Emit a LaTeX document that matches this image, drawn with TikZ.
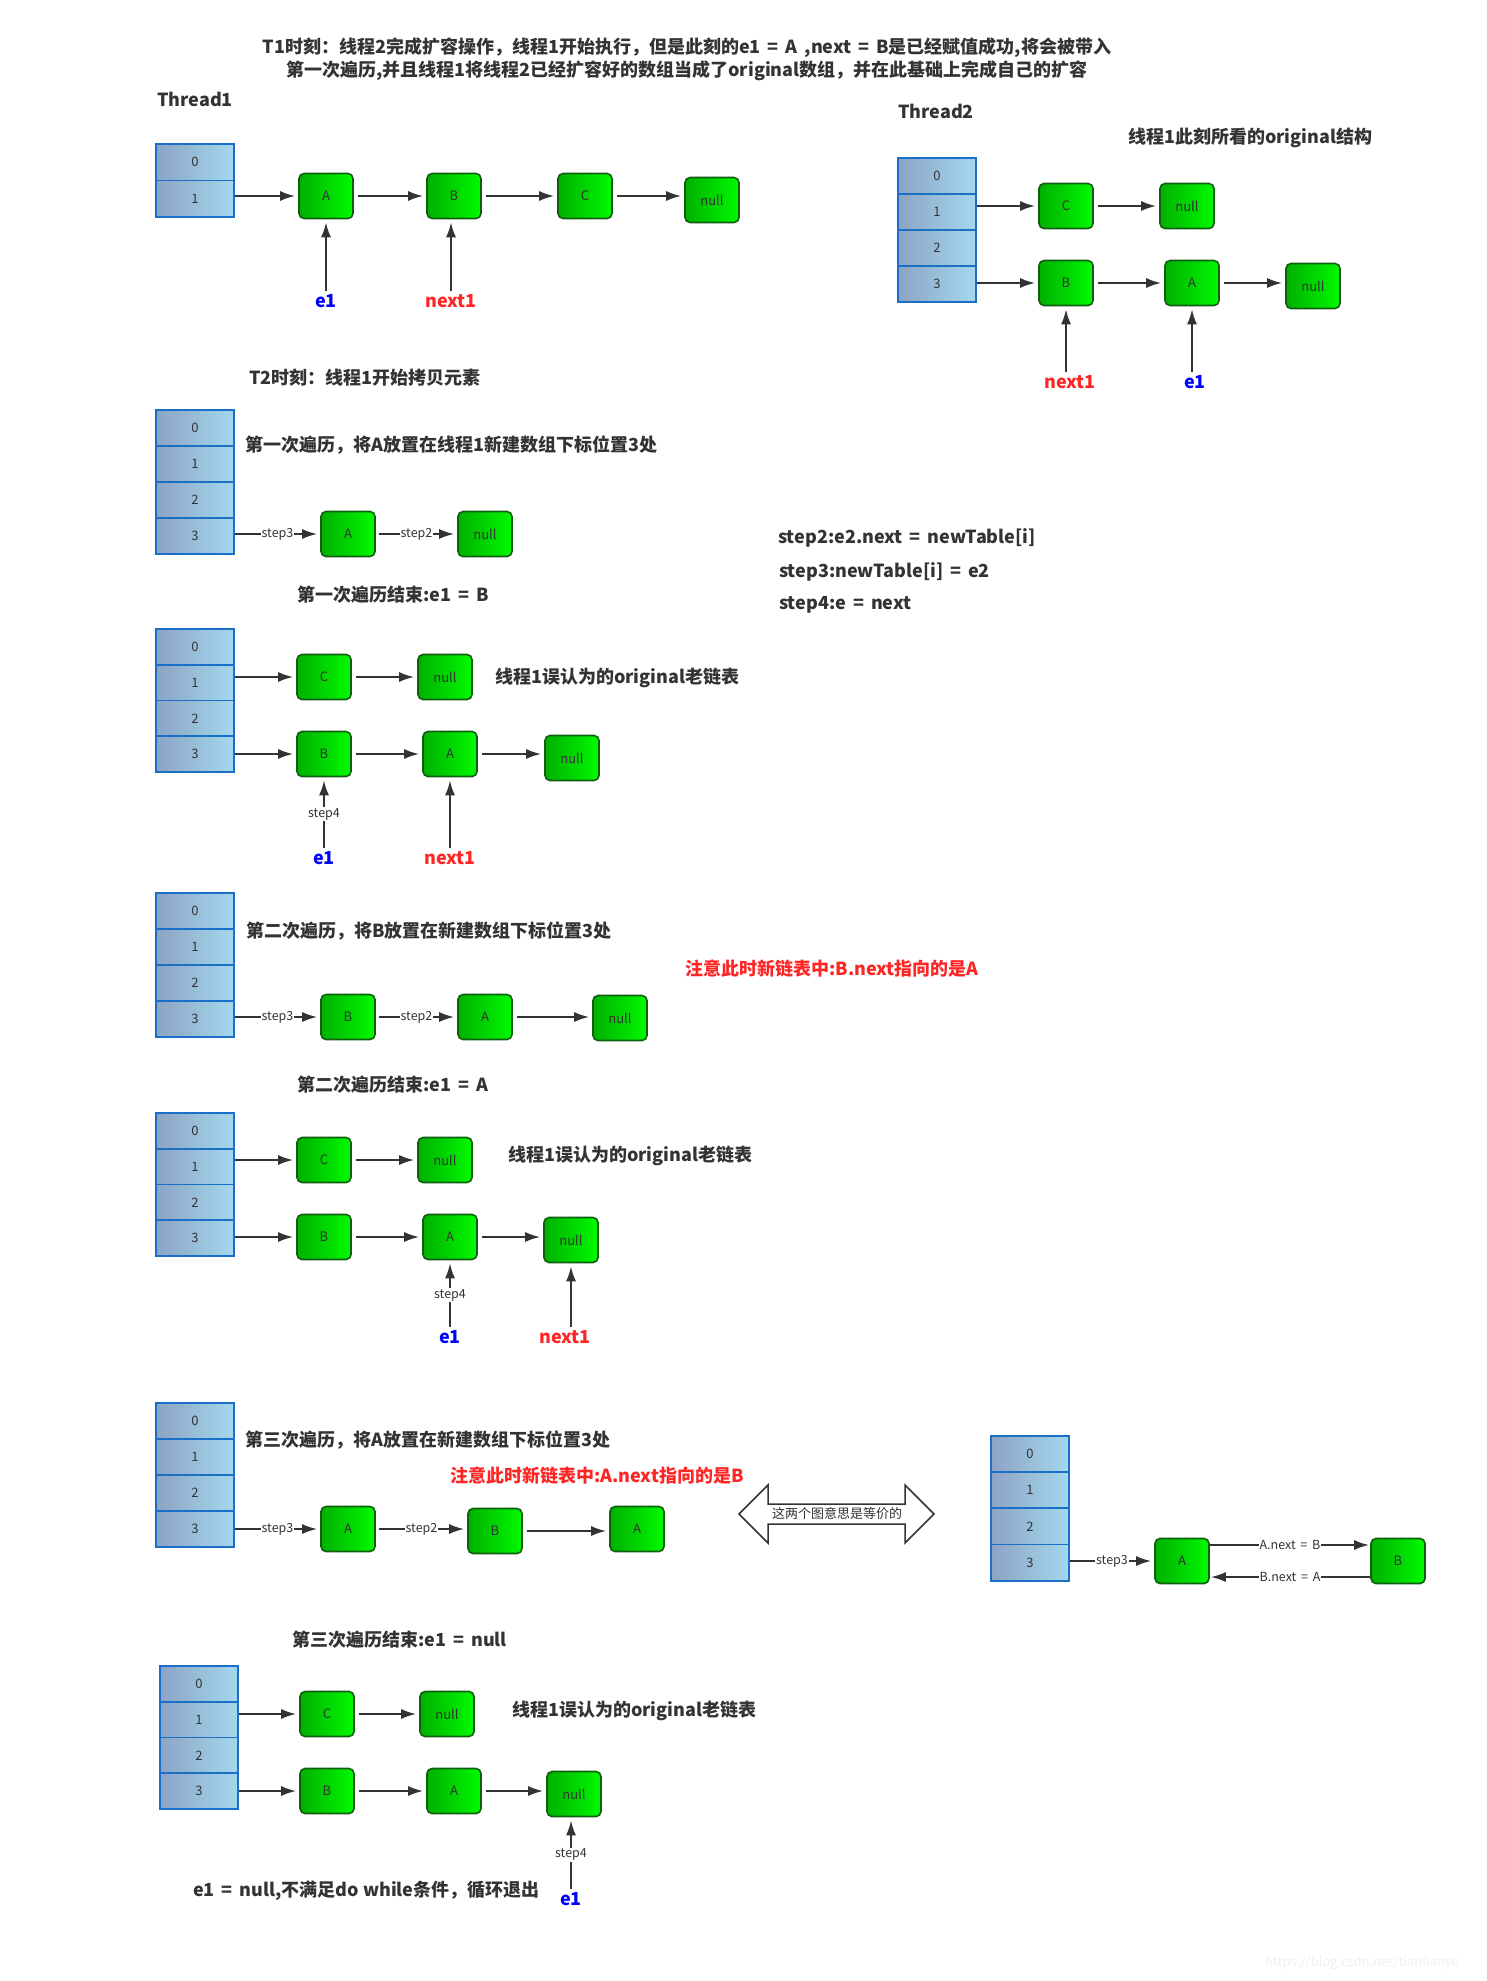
\documentclass[tikz,border=0pt]{standalone}
\usepackage{fontspec}
\setmainfont{Noto Sans CJK SC}[WordSpace=1.7]
\usetikzlibrary{arrows.meta}

\definecolor{ink}{HTML}{333333}
\definecolor{cellborder}{HTML}{1B6FC8}
\definecolor{cellleft}{HTML}{8DA3C4}
\definecolor{cellright}{HTML}{A3D8EE}
\definecolor{gborder}{HTML}{0F5F0F}
\definecolor{gleft}{HTML}{00B000}
\definecolor{gright}{HTML}{00FA00}
\definecolor{ptrblue}{HTML}{0000FF}
\definecolor{ptrred}{HTML}{FF2525}
\definecolor{wmark}{HTML}{F0F0F0}

\tikzset{
  cell/.style={draw=cellborder, line width=1.8pt, left color=cellleft, right color=cellright,
    minimum width=78pt, inner sep=0pt, anchor=north west,
    font=\fontsize{13}{15}\selectfont, text=ink},
  gnode/.style={draw=gborder, line width=1.6pt, rounded corners=5pt, left color=gleft, right color=gright,
    minimum width=54pt, minimum height=45pt, inner sep=0pt,
    font=\fontsize{13}{15}\selectfont, text=ink},
  arr/.style={draw=ink, line width=2pt, -{Latex[length=15pt,width=10pt]}, shorten >=3pt},
  steplabel/.style={fill=white, inner sep=1pt, font=\fontsize{12.5}{14}\selectfont, text=ink},
  heading/.style={font=\fontsize{18}{21}\selectfont\bfseries, text=ink, anchor=west, inner sep=0pt},
  ptr/.style={font=\fontsize{18}{21}\selectfont\bfseries, inner sep=0pt},
}

% a column of index cells: name, left x, top y, last index, cell height
\newcommand\cellcolumn[5]{%
  \foreach \i in {0,...,#4}{%
    \node[cell, minimum height=#5pt] (#1-\i) at (#2,{#3+\i*#5}) {\i};
  }%
}
% horizontal arrow between two list nodes
\newcommand\link[2]{\draw[arr, shorten <=4pt] (#1.east) -- (#1.east -| #2.west);}

\begin{document}
\begin{tikzpicture}[x=1pt,y=-1pt]
\useasboundingbox[fill=white] (0,0) rectangle (1487,1981);

% ---------- heading ----------
\node[heading, anchor=center] (title1) at (687,48) {T1时刻：线程2完成扩容操作，线程1开始执行，但是此刻的e1 = A ,next = B是已经赋值成功,将会被带入};
\node[heading, anchor=center] (title2) at (687,71) {第一次遍历,并且线程1将线程2已经扩容好的数组当成了original数组，并在此基础上完成自己的扩容};

% ---------- Thread1 ----------
\node[heading] (thread1) at (157,99) {Thread1};
\cellcolumn{t1}{155}{143}{1}{36.5}
\node[gnode] (t1A) at (326,196) {A};
\node[gnode] (t1B) at (454,196) {B};
\node[gnode] (t1C) at (585,196) {C};
\node[gnode] (t1N) at (712,200) {null};
\node[ptr, text=ptrblue] (t1e1) at (326,301) {e1};
\node[ptr, text=ptrred] (t1next) at (451,301) {next1};
\draw[arr] (t1-1.east |- t1A.west) -- (t1A.west);
\link{t1A}{t1B}
\link{t1B}{t1C}
\link{t1C}{t1N}
\draw[arr, shorten <=3pt] (t1e1.north) -- (t1A.south);
\draw[arr, shorten <=3pt] (t1next.north) -- (t1next.north |- t1B.south);

% ---------- Thread2 ----------
\node[heading] (thread2) at (898,111) {Thread2};
\node[heading] (t2cap) at (1128,138) {线程1此刻所看的original结构};
\cellcolumn{t2}{897}{157}{3}{36.1}
\node[gnode] (t2C) at (1066,206) {C};
\node[gnode] (t2N1) at (1187,206) {null};
\node[gnode] (t2B) at (1066,283) {B};
\node[gnode] (t2A) at (1192,283) {A};
\node[gnode] (t2N2) at (1313,286) {null};
\node[ptr, text=ptrred] (t2next) at (1070,382) {next1};
\node[ptr, text=ptrblue] (t2e1) at (1195,382) {e1};
\draw[arr] (t2-1.east |- t2C.west) -- (t2C.west);
\draw[arr] (t2-3.east |- t2B.west) -- (t2B.west);
\link{t2C}{t2N1}
\link{t2B}{t2A}
\link{t2A}{t2N2}
\draw[arr, shorten <=3pt] (t2next.north -| t2B.south) -- (t2B.south);
\draw[arr, shorten <=3pt] (t2e1.north -| t2A.south) -- (t2A.south);

% ---------- T2: first pass ----------
\node[heading] (t2time) at (249,378) {T2时刻：线程1开始拷贝元素};
\cellcolumn{s1}{155}{409}{3}{36}
\node[heading] (s1cap) at (245,445) {第一次遍历，将A放置在线程1新建数组下标位置3处};
\node[gnode] (s1A) at (348,534) {A};
\node[gnode] (s1N) at (485,534) {null};
\draw[arr] (s1-3.east |- s1A.west) -- node[steplabel]{step3} (s1A.west);
\draw[arr, shorten <=3pt] (s1A.east) -- node[steplabel]{step2} (s1N.west);

\node[heading] (rule2) at (778,538) {step2:e2.next = newTable[i]};
\node[heading] (rule3) at (779,572) {step3:newTable[i] = e2};
\node[heading] (rule4) at (779,605) {step4:e = next};

\node[heading] (end1) at (297,595) {第一次遍历结束:e1 = B};
\cellcolumn{r1}{155}{628}{3}{35.8}
\node[gnode] (r1C) at (324,677) {C};
\node[gnode] (r1N1) at (445,677) {null};
\node[gnode] (r1B) at (324,754) {B};
\node[gnode] (r1A) at (450,754) {A};
\node[gnode] (r1N2) at (572,758) {null};
\node[heading] (r1cap) at (495,678) {线程1误认为的original老链表};
\node[ptr, text=ptrblue] (r1e1) at (324,858) {e1};
\node[ptr, text=ptrred] (r1next) at (450,858) {next1};
\draw[arr] (r1-1.east |- r1C.west) -- (r1C.west);
\draw[arr] (r1-3.east |- r1B.west) -- (r1B.west);
\link{r1C}{r1N1}
\link{r1B}{r1A}
\link{r1A}{r1N2}
\draw[arr, shorten <=3pt] (r1e1.north) -- node[steplabel]{step4} (r1B.south);
\draw[arr, shorten <=3pt] (r1next.north) -- (r1A.south);

% ---------- second pass ----------
\cellcolumn{s2}{155}{892}{3}{36}
\node[heading] (s2cap) at (246,931) {第二次遍历，将B放置在新建数组下标位置3处};
\node[heading, text=ptrred] (s2note) at (685,969) {注意此时新链表中:B.next指向的是A};
\node[gnode] (s2B) at (348,1017) {B};
\node[gnode] (s2A) at (485,1017) {A};
\node[gnode] (s2N) at (620,1018) {null};
\draw[arr] (s2-3.east |- s2B.west) -- node[steplabel]{step3} (s2B.west);
\draw[arr, shorten <=3pt] (s2B.east) -- node[steplabel]{step2} (s2A.west);
\link{s2A}{s2N}

\node[heading] (end2) at (297,1085) {第二次遍历结束:e1 = A};
\cellcolumn{r2}{155}{1112}{3}{35.8}
\node[gnode] (r2C) at (324,1160) {C};
\node[gnode] (r2N1) at (445,1160) {null};
\node[gnode] (r2B) at (324,1237) {B};
\node[gnode] (r2A) at (450,1237) {A};
\node[gnode] (r2N2) at (571,1240) {null};
\node[heading] (r2cap) at (508,1156) {线程1误认为的original老链表};
\node[ptr, text=ptrblue] (r2e1) at (450,1337) {e1};
\node[ptr, text=ptrred] (r2next) at (565,1337) {next1};
\draw[arr] (r2-1.east |- r2C.west) -- (r2C.west);
\draw[arr] (r2-3.east |- r2B.west) -- (r2B.west);
\link{r2C}{r2N1}
\link{r2B}{r2A}
\link{r2A}{r2N2}
\draw[arr, shorten <=3pt] (r2e1.north) -- node[steplabel]{step4} (r2A.south);
\draw[arr, shorten <=3pt] (r2next.north -| r2N2.south) -- (r2N2.south);

% ---------- third pass ----------
\cellcolumn{s3}{155}{1402}{3}{36}
\node[heading] (s3cap) at (245,1440) {第三次遍历，将A放置在新建数组下标位置3处};
\node[heading, text=ptrred] (s3note) at (450,1476) {注意此时新链表中:A.next指向的是B};
\node[gnode] (s3A) at (348,1529) {A};
\node[gnode] (s3B) at (495,1531) {B};
\node[gnode] (s3A2) at (637,1529) {A};
\draw[arr] (s3-3.east |- s3A.west) -- node[steplabel]{step3} (s3A.west);
\draw[arr, shorten <=3pt] (s3A.east) -- node[steplabel]{step2} (s3A.east -| s3B.west);
\link{s3B}{s3A2}

% double-headed block arrow
\draw[draw=ink, line width=1.5pt, fill=white, line join=miter]
  (739,1514) -- (768,1485) -- (768,1504) -- (905,1504) -- (905,1485) -- (934,1514)
  -- (905,1543) -- (905,1524) -- (768,1524) -- (768,1543) -- cycle;
\node[font=\fontsize{13}{15}\selectfont, text=ink, inner sep=0pt] (equiv) at (837,1514) {这两个图意思是等价的};

\cellcolumn{q}{990}{1435}{3}{36.2}
\node[gnode] (qA) at (1182,1561) {A};
\node[gnode] (qB) at (1398,1561) {B};
\draw[arr] (q-3.east |- qA.west) -- node[steplabel]{step3} (qA.west);
\coordinate (qAtop) at ([yshift=16pt]qA.east);
\coordinate (qBlow) at ([yshift=-16pt]qB.west);
\draw[arr, shorten >=1pt] (qAtop) -- node[steplabel]{A.next = B} (qAtop -| qB.west);
\draw[arr, shorten >=1pt] (qBlow) -- node[steplabel]{B.next = A} (qBlow -| qA.east);

\node[heading] (end3) at (292,1640) {第三次遍历结束:e1 = null};
\cellcolumn{r3}{159}{1665}{3}{35.8}
\node[gnode] (r3C) at (327,1714) {C};
\node[gnode] (r3N1) at (447,1714) {null};
\node[gnode] (r3B) at (327,1791) {B};
\node[gnode] (r3A) at (454,1791) {A};
\node[gnode] (r3N2) at (574,1794) {null};
\node[heading] (r3cap) at (512,1711) {线程1误认为的original老链表};
\node[ptr, text=ptrblue] (r3e1) at (571,1899) {e1};
\draw[arr] (r3-1.east |- r3C.west) -- (r3C.west);
\draw[arr] (r3-3.east |- r3B.west) -- (r3B.west);
\link{r3C}{r3N1}
\link{r3B}{r3A}
\link{r3A}{r3N2}
\draw[arr, shorten <=3pt] (r3e1.north) -- node[steplabel]{step4} (r3e1.north |- r3N2.south);
\node[heading] (exit) at (193,1891) {e1 = null,不满足do\hspace{0.22em}while条件，循环退出};

\node[font=\fontsize{13}{15}\selectfont, text=wmark, anchor=west, inner sep=0pt] (url) at (1265,1963) {https://blog.csdn.net/tianlianye};
\end{tikzpicture}
\end{document}
